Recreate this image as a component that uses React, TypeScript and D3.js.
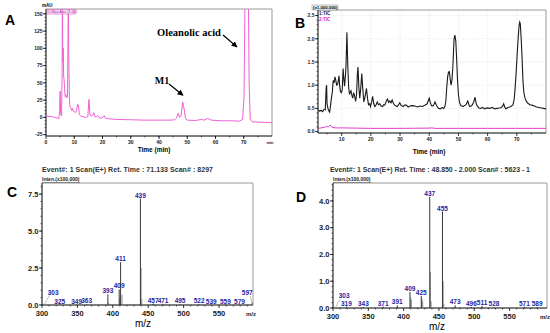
import * as d3 from "d3";

const sans = "'Liberation Sans', Arial, sans-serif";
const serif = "'Liberation Serif', 'Times New Roman', serif";

// ---------- A: UV chromatogram (min, mAU) ----------
const uvTrace: [number, number][] = [
  [0, 2], [1, 1.5], [2, 1], [3, 0], [4, -1], [4.5, -2], [4.8, 8], [5.0, 38], [5.2, 5], [5.5, 2],
  [5.7, 60], [5.8, 200], [5.95, 80], [6.1, 100], [6.25, 60], [6.4, 55], [6.6, 40], [6.8, 30],
  [7.0, 33], [7.3, 28], [7.6, 30], [7.8, 120], [7.9, 200], [8.05, 90], [8.3, 25], [8.5, 15],
  [8.8, 14], [9.1, 10], [9.4, 13], [9.7, 9], [10.1, 8], [10.5, 7], [10.9, 12], [11.2, 19],
  [11.5, 17], [11.8, 4], [12.3, 2], [13, 1], [14, 0], [14.8, 1], [15.2, 26], [15.6, 3],
  [16.2, 2], [16.6, 4], [16.9, 7], [17.3, 1], [17.8, 1], [18.3, 3], [18.7, 0], [19.5, -1],
  [20.2, 0], [20.6, 2.5], [21.0, -1], [22, -2], [25, -3], [30, -3.5], [35, -4], [40, -4],
  [44, -4], [45.5, -3.5], [46.2, -1], [46.8, 6], [47.3, 0], [47.8, 2], [48.4, 22], [48.9, 12],
  [49.4, -2], [50, -4], [53, -4.5], [55, -3], [56, -4], [57.2, -1.5], [58.5, -4], [62, -5],
  [66, -5], [68.5, -5.5], [69.6, -3], [70.1, 30], [70.5, 200], [71.6, 200], [71.9, 50],
  [72.3, -3], [73, -6.5], [76, -7], [80, -7.5],
];
const uvYTicks = [-25, 0, 25, 50, 75, 100, 125, 150];
const uvXTicks = [0, 10, 20, 30, 40, 50, 60, 70];

// ---------- B: TIC (x1,000,000) ----------
const ticTrace: [number, number][] = [
  [2.0, 0.47], [2.5, 0.44], [3.0, 0.46], [3.5, 0.43], [4.0, 0.48], [4.4, 0.47], [4.7, 0.95], [4.85, 1.0],
  [5.0, 0.6], [5.3, 0.5], [5.6, 0.45], [5.9, 0.42], [6.2, 0.57], [6.5, 0.72], [6.8, 0.85], [7.1, 1.1],
  [7.4, 1.05], [7.7, 1.18], [8.0, 1.1], [8.3, 1.0], [8.6, 1.02], [8.9, 1.12], [9.1, 1.2], [9.3, 1.0],
  [9.6, 0.86], [9.9, 0.84], [10.2, 0.9], [10.5, 1.36], [10.8, 1.1], [11.0, 0.98], [11.3, 1.2], [11.5, 1.43],
  [11.8, 2.14], [12.1, 1.43], [12.4, 0.95], [12.7, 0.8], [13.0, 0.86], [13.2, 0.88], [13.5, 0.78],
  [13.8, 0.72], [14.1, 0.84], [14.4, 0.78], [14.8, 0.65], [15.1, 0.8], [15.4, 1.25], [15.6, 1.39],
  [15.9, 0.95], [16.2, 0.72], [16.5, 0.9], [16.9, 1.25], [17.2, 0.95], [17.6, 0.64], [18.0, 0.75],
  [18.5, 0.93], [18.9, 0.7], [19.2, 0.58], [19.6, 0.6], [19.9, 0.54], [20.3, 0.65], [20.6, 0.76],
  [21.0, 0.6], [21.4, 0.54], [21.8, 0.58], [22.2, 0.64], [22.6, 0.58], [23.1, 0.6], [23.5, 0.55],
  [24.0, 0.54], [24.4, 0.58], [24.8, 0.57], [25.3, 0.66], [25.7, 0.7], [26.1, 0.63], [26.5, 0.66],
  [26.9, 0.62], [27.3, 0.68], [27.8, 0.6], [28.2, 0.57], [28.6, 0.55], [29.0, 0.54], [29.5, 0.58],
  [29.9, 0.62], [30.4, 0.56], [31.1, 0.54], [31.6, 0.57], [32.2, 0.57], [32.8, 0.53], [33.4, 0.55],
  [34.2, 0.56], [35.1, 0.55], [36.0, 0.53], [36.8, 0.55], [37.6, 0.54], [38.5, 0.57], [39.3, 0.6],
  [40.0, 0.72], [40.4, 0.62], [40.7, 0.57], [41.0, 0.55], [41.4, 0.56], [42.0, 0.64], [42.4, 0.58],
  [42.7, 0.54], [43.2, 0.5], [43.8, 0.49], [44.4, 0.52], [45.0, 0.5], [45.4, 0.55], [45.7, 0.66],
  [46.0, 0.95], [46.3, 1.18], [46.6, 1.28], [46.9, 1.29], [47.2, 1.12], [47.5, 1.0], [47.8, 1.12],
  [48.1, 1.4], [48.5, 2.0], [48.8, 2.08], [49.1, 1.95], [49.4, 1.55], [49.7, 1.1], [50.0, 0.8],
  [50.4, 0.62], [50.8, 0.56], [51.2, 0.55], [51.6, 0.54], [52.1, 0.56], [52.6, 0.58], [53.2, 0.66],
  [53.6, 0.58], [53.9, 0.54], [54.4, 0.55], [54.8, 0.58], [55.3, 0.65], [55.7, 0.74], [56.1, 0.6],
  [56.5, 0.55], [57.0, 0.51], [57.6, 0.5], [58.3, 0.52], [59.0, 0.49], [59.8, 0.51], [60.7, 0.5],
  [61.6, 0.52], [62.4, 0.49], [63.2, 0.5], [64.0, 0.51], [64.7, 0.52], [65.2, 0.56], [65.5, 0.6],
  [65.9, 0.52], [66.3, 0.49], [66.9, 0.52], [67.6, 0.53], [68.2, 0.55], [68.7, 0.58], [69.1, 0.7],
  [69.4, 0.92], [69.8, 1.3], [70.1, 1.64], [70.5, 2.05], [70.8, 2.3], [71.0, 2.36], [71.2, 2.32],
  [71.5, 2.0], [71.8, 1.6], [72.1, 1.1], [72.4, 0.85], [72.8, 0.72], [73.3, 0.65], [73.8, 0.61],
  [74.5, 0.58], [75.2, 0.57], [76.0, 0.55], [76.8, 0.53], [77.6, 0.52], [78.4, 0.51], [79.2, 0.5],
  [80, 0.49],
];
const blankTrace: [number, number][] = [
  [2, 0.07], [3, 0.08], [4, 0.09], [4.8, 0.11], [5.4, 0.1], [6.0, 0.14], [6.3, 0.13], [6.8, 0.09],
  [8, 0.08], [10, 0.08], [15, 0.075], [20, 0.07], [30, 0.07], [40, 0.075], [41, 0.08], [42, 0.07],
  [50, 0.07], [60, 0.07], [70, 0.07], [80, 0.07],
];
const ticYTicks = [0, 0.5, 1.0, 1.5, 2.0, 2.5];
const ticXTicks = [10, 20, 30, 40, 50, 60, 70];

// ---------- C: MS spectrum at 71.133 min (x100,000) ----------
const msCPeaks: [number, number][] = [
  [303, 0.05], [325, 0.03], [349, 0.03], [363, 0.05], [393, 0.72], [409, 1.05], [411, 2.9],
  [439, 7.2], [457, 0.1], [471, 0.05], [495, 0.05], [522, 0.04], [539, 0.03], [559, 0.03],
  [579, 0.03], [597, 0.15],
];
const msCMinor: [number, number][] = [[394, 0.15], [410, 0.5], [413, 0.7], [440, 2.5], [441, 0.4]];
const msCLeader = [303, 597];
const msCYTicks = [0, 2.5, 5.0, 7.5];

// ---------- D: MS spectrum at 48.850 min (x100,000) ----------
const msDPeaks: [number, number][] = [
  [303, 0.02], [319, 0.05], [343, 0.03], [371, 0.05], [391, 0.1], [409, 0.6], [425, 0.45],
  [437, 4.15], [455, 3.6], [473, 0.1], [496, 0.04], [511, 0.08], [528, 0.02], [571, 0.05], [589, 0.03],
];
const msDMinor: [number, number][] = [
  [410, 0.4], [411, 0.3], [426, 0.35], [427, 0.25], [438, 1.35], [439, 0.25], [456, 1.0], [457, 0.15],
];
const msDLeader = [303];
const msDYTicks = [0, 1.0, 2.0, 3.0, 4.0];
const msXTicks = [300, 350, 400, 450, 500, 550];

type Lin = d3.ScaleLinear<number, number>;

function Frame({ x, y }: { x: Lin; y: Lin }) {
  const [x0, x1] = x.range();
  const [y0, y1] = y.range();
  return (
    <g>
      <line x1={x0} x2={x1} y1={y1} y2={y1} stroke="#9a9a9a" strokeWidth={1} />
      <line x1={x1} x2={x1} y1={y1} y2={y0} stroke="#9a9a9a" strokeWidth={1} />
      <line x1={x0} x2={x0} y1={y1} y2={y0} stroke="#000" strokeWidth={1} />
      <line x1={x0} x2={x1} y1={y0} y2={y0} stroke="#000" strokeWidth={1} />
    </g>
  );
}

function Ticks({
  x, y, xTicks, yTicks, xMinor, yMinor, fmtY, size, endLabel,
}: {
  x: Lin; y: Lin; xTicks: number[]; yTicks: number[]; xMinor: number[]; yMinor: number[];
  fmtY: (v: number) => string; size: number; endLabel?: string;
}) {
  const [x0, x1] = x.range();
  const [y0] = y.range();
  return (
    <g fontFamily={sans} fontWeight="bold" fontSize={size} fill="#222">
      {yMinor.map((v) => (
        <line key={"ym" + v} x1={x0 - 1.5} x2={x0} y1={y(v)} y2={y(v)} stroke="#000" strokeWidth={0.6} />
      ))}
      {xMinor.map((v) => (
        <line key={"xm" + v} x1={x(v)} x2={x(v)} y1={y0} y2={y0 + 1.5} stroke="#000" strokeWidth={0.6} />
      ))}
      {yTicks.map((v) => (
        <g key={"y" + v}>
          <line x1={x0 - 3} x2={x0} y1={y(v)} y2={y(v)} stroke="#000" strokeWidth={0.8} />
          <text x={x0 - 3.5} y={y(v) + size * 0.35} textAnchor="end">{fmtY(v)}</text>
        </g>
      ))}
      {xTicks.map((v) => (
        <g key={"x" + v}>
          <line x1={x(v)} x2={x(v)} y1={y0} y2={y0 + 3} stroke="#000" strokeWidth={0.8} />
          <text x={x(v)} y={y0 + 3 + size} textAnchor="middle">{v}</text>
        </g>
      ))}
      {endLabel && (
        <text x={x1 - 2} y={y0 + 3 + size} textAnchor="middle" fontSize={size * 0.8}>{endLabel}</text>
      )}
    </g>
  );
}

function Spectrum({
  x, y, peaks, minor, leader, yTicks, fmtY,
}: {
  x: Lin; y: Lin; peaks: [number, number][]; minor: [number, number][]; leader: number[];
  yTicks: number[]; fmtY: (v: number) => string;
}) {
  const [y0, yTop] = y.range();
  const [x0] = x.range();
  const xMinor = d3.range(310, x.domain()[1], 10).filter((v) => v % 50 !== 0);
  const yMinor = d3.range(0, y.domain()[1], yTicks[1] / 5);
  return (
    <g>
      <Ticks x={x} y={y} xTicks={msXTicks} yTicks={yTicks} xMinor={xMinor} yMinor={yMinor}
        fmtY={fmtY} size={7.5} endLabel="m/z" />
      <Frame x={x} y={y} />
      {minor.map(([m, v]) => (
        <line key={"n" + m} x1={x(m)} x2={x(m)} y1={y0} y2={y(v)} stroke="#777" strokeWidth={0.8} />
      ))}
      {peaks.map(([m, v]) => (
        <line key={"p" + m} x1={x(m)} x2={x(m)} y1={y0} y2={y(v)} stroke="#222" strokeWidth={0.9} />
      ))}
      {peaks.map(([m, v]) => {
        const lead = leader.includes(m);
        const dx = lead ? (x(m) - x0 < 20 ? 9 : -5) : 0;
        const ty = lead ? y0 - 10 : y(v) - 1;
        const lx = x(m) + dx;
        return (
          <g key={"l" + m}>
            {lead && (
              <line x1={x(m)} y1={y0} x2={lx + (dx > 0 ? -4 : 3)} y2={ty + 1} stroke="#aaa" strokeWidth={0.7} />
            )}
            <text x={lx} y={ty} textAnchor="middle" fontFamily={sans} fontWeight="bold"
              fontSize={6.5} fill="#1e1ea0">{m}</text>
          </g>
        );
      })}
      <text x={x0} y={yTop - 2} fontFamily={sans} fontWeight="bold" fontSize={5} fill="#222">
        Inten.(x100,000)
      </text>
      <line x1={x0} x2={x0 + 38} y1={yTop - 0.5} y2={yTop - 0.5} stroke="#555" strokeWidth={0.6} />
    </g>
  );
}

export default function App() {
  // A
  const ax = d3.scaleLinear().domain([0, 80]).range([46, 272]);
  const ay = d3.scaleLinear().domain([-27, 157]).range([136, 9]);
  const uvLine = d3.line<[number, number]>().x((d) => ax(d[0])).y((d) => ay(d[1]));
  // B
  const bx = d3.scaleLinear().domain([1.9, 80]).range([318, 546]);
  const by = d3.scaleLinear().domain([-0.03, 2.62]).range([133, 10]);
  const ticLine = d3.line<[number, number]>().x((d) => bx(d[0])).y((d) => by(d[1]));
  // C, D
  const cx = d3.scaleLinear().domain([300, 598]).range([42, 253]);
  const cy = d3.scaleLinear().domain([0, 8.25]).range([305, 183]);
  const dx = d3.scaleLinear().domain([300, 603]).range([333, 547]);
  const dy = d3.scaleLinear().domain([0, 4.67]).range([308, 183]);

  const fmt1 = d3.format(".1f");

  return (
    <svg width={550} height={333} viewBox="0 0 550 333"
      style={{ position: "absolute", left: 0, top: 0, background: "#fff" }}>
      <defs>
        <clipPath id="clipA"><rect x={46} y={9} width={226} height={127} /></clipPath>
        <clipPath id="clipB"><rect x={318} y={10} width={228} height={123} /></clipPath>
        <marker id="arr" viewBox="0 0 10 10" refX={9} refY={5} markerWidth={5} markerHeight={5} orient="auto">
          <path d="M0,0 L10,5 L0,10 z" fill="#000" />
        </marker>
      </defs>
      <rect width={550} height={333} fill="#fff" />

      {/* Panel letters */}
      <g fontFamily={sans} fontWeight="bold" fontSize={14} fill="#000">
        <text x={5} y={25}>A</text>
        <text x={295} y={28}>B</text>
        <text x={7} y={197}>C</text>
        <text x={296} y={202}>D</text>
      </g>

      {/* ---- A ---- */}
      <Ticks x={ax} y={ay} xTicks={uvXTicks} yTicks={uvYTicks}
        xMinor={d3.range(5, 80, 5)} yMinor={d3.range(-25, 155, 5)}
        fmtY={(v) => String(v)} size={5} endLabel="min" />
      <Frame x={ax} y={ay} />
      <path d={uvLine(uvTrace) ?? ""} fill="none" stroke="#f060d4" strokeWidth={1} clipPath="url(#clipA)" />
      <text x={42} y={7} fontFamily={sans} fontSize={4.5} fontWeight="bold">mAU</text>
      <rect x={47} y={9.5} width={28} height={4.5} fill="#fbe3f6" stroke="#d040b8" strokeWidth={0.5} />
      <text x={48} y={13.2} fontFamily={sans} fontSize={3.8} fill="#b0209a">1:Wav.Abs (1.00)</text>
      <text x={154} y={152} textAnchor="middle" fontFamily={sans} fontWeight="bold" fontSize={6.5}>Time (min)</text>
      <text x={162} y={84} textAnchor="middle" fontFamily={serif} fontWeight="bold" fontSize={10}>M1</text>
      <line x1={169} y1={84} x2={ax(48.5)} y2={ay(32)} stroke="#000" strokeWidth={1.2} markerEnd="url(#arr)" />
      <text x={189} y={35.5} textAnchor="middle" fontFamily={serif} fontWeight="bold" fontSize={10.5}>Oleanolic acid</text>
      <line x1={223} y1={35} x2={ax(67.6)} y2={ay(102)} stroke="#000" strokeWidth={1.2} markerEnd="url(#arr)" />

      {/* ---- B ---- */}
      <g stroke="#d6d6d6" strokeWidth={0.6} strokeDasharray="1,1.5">
        {ticXTicks.map((v) => (
          <line key={"gx" + v} x1={bx(v)} x2={bx(v)} y1={10} y2={133} />
        ))}
        {ticYTicks.slice(1).map((v) => (
          <line key={"gy" + v} x1={318} x2={546} y1={by(v)} y2={by(v)} />
        ))}
      </g>
      <Ticks x={bx} y={by} xTicks={ticXTicks} yTicks={ticYTicks}
        xMinor={d3.range(5, 80, 5).filter((v) => v % 10 !== 0)} yMinor={d3.range(0.1, 2.6, 0.1)}
        fmtY={fmt1} size={5} />
      <Frame x={bx} y={by} />
      <path d={ticLine(blankTrace) ?? ""} fill="none" stroke="#e23ad0" strokeWidth={1} clipPath="url(#clipB)" />
      <path d={ticLine(ticTrace) ?? ""} fill="none" stroke="#1a1a1a" strokeWidth={1.1} clipPath="url(#clipB)" />
      <rect x={312} y={5} width={26} height={5} fill="#eee" stroke="#777" strokeWidth={0.4} />
      <text x={313} y={9.2} fontFamily={sans} fontWeight="bold" fontSize={4.3}>(x1,000,000)</text>
      <text x={319} y={15} fontFamily={sans} fontWeight="bold" fontSize={4.5} fill="#222">1:TIC</text>
      <text x={319} y={21} fontFamily={sans} fontWeight="bold" fontSize={4.5} fill="#d028c0">2:TIC</text>
      <text x={429} y={154} textAnchor="middle" fontFamily={sans} fontWeight="bold" fontSize={6.5}>Time (min)</text>

      {/* ---- C ---- */}
      <text x={42} y={172} fontFamily={sans} fontWeight="bold" fontSize={7} fill="#333" textLength={171}>
        Event#: 1 Scan(E+)   Ret. Time : 71.133   Scan# : 8297
      </text>
      <Spectrum x={cx} y={cy} peaks={msCPeaks} minor={msCMinor} leader={msCLeader}
        yTicks={msCYTicks} fmtY={fmt1} />
      <text x={143} y={327} textAnchor="middle" fontFamily={sans} fontSize={10}>m/z</text>

      {/* ---- D ---- */}
      <text x={330} y={172} fontFamily={sans} fontWeight="bold" fontSize={7} fill="#333" textLength={200}>
        Event#: 1 Scan(E+)  Ret. Time : 48.850 - 2.000  Scan# : 5623 - 1
      </text>
      <Spectrum x={dx} y={dy} peaks={msDPeaks} minor={msDMinor} leader={msDLeader}
        yTicks={msDYTicks} fmtY={fmt1} />
      <text x={437} y={330} textAnchor="middle" fontFamily={sans} fontSize={10}>m/z</text>
    </svg>
  );
}
